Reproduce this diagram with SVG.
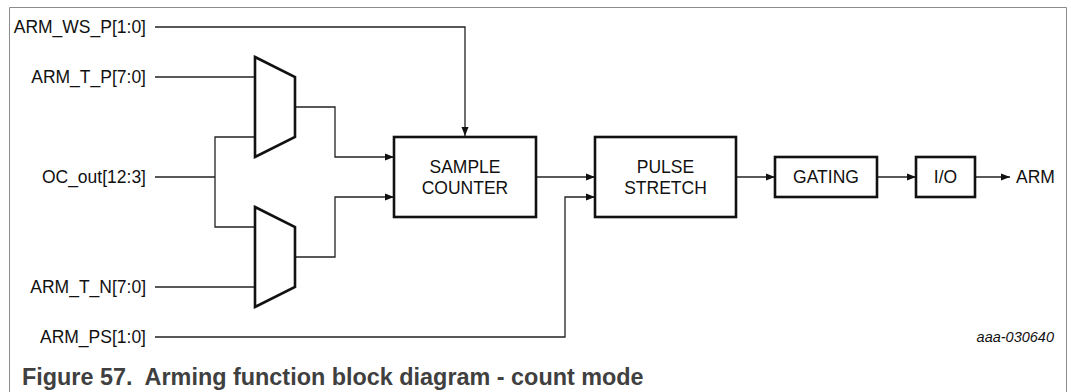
<svg xmlns="http://www.w3.org/2000/svg" width="1071" height="392" viewBox="0 0 1071 392">
<style>
.lbl{font-family:"Liberation Sans",Arial,sans-serif;font-size:17.5px;fill:#111;}
.end{text-anchor:end;}
.mid{text-anchor:middle;}
.box{fill:#fff;stroke:#111;stroke-width:2.6;}
.mux{fill:#fff;stroke:#111;stroke-width:2.6;stroke-linejoin:miter;}
.wire{fill:none;stroke:#222;stroke-width:1.3;}
.arr{marker-end:url(#ah);}
.cap{font-family:"Liberation Sans",Arial,sans-serif;font-weight:bold;font-size:23.4px;fill:#404040;}
.code{font-family:"Liberation Sans",Arial,sans-serif;font-style:italic;font-size:14.5px;fill:#111;text-anchor:end;}
</style>
<defs>
<marker id="ah" markerUnits="userSpaceOnUse" markerWidth="9" markerHeight="8" refX="9" refY="4" orient="auto">
<path d="M0,0.5 L9,4 L0,7.5 z" fill="#111"/>
</marker>
</defs>
<rect x="0" y="0" width="1071" height="392" fill="#fff"/>
<path d="M9.5,400 V7.5 H1066.5 V400" fill="none" stroke="#8c8c8c" stroke-width="1"/>

<g id="connectors">
<path class="wire arr" d="M155,27 H465 V136"/>
<path class="wire" d="M155,77 H255"/>
<path class="wire" d="M155,177 H215"/>
<path class="wire" d="M255,137 H215 V227 H255"/>
<path class="wire" d="M155,287 H255"/>
<path class="wire arr" d="M295,107 H335 V157 H394"/>
<path class="wire arr" d="M295,257 H335 V197 H394"/>
<path class="wire arr" d="M155,337 H565 V197 H595"/>
<path class="wire arr" d="M536,177 H595"/>
<path class="wire arr" d="M736,177 H775"/>
<path class="wire arr" d="M877,177 H916"/>
<path class="wire arr" d="M975,177 H1010"/>
</g>

<g id="in_ws"><text class="lbl end" x="146" y="33">ARM_WS_P[1:0]</text></g>
<g id="in_tp"><text class="lbl end" x="146" y="83">ARM_T_P[7:0]</text></g>
<g id="in_oc"><text class="lbl end" x="146" y="183">OC_out[12:3]</text></g>
<g id="in_tn"><text class="lbl end" x="146" y="293">ARM_T_N[7:0]</text></g>
<g id="in_ps"><text class="lbl end" x="146" y="343">ARM_PS[1:0]</text></g>

<g id="mux_p"><polygon class="mux" points="255,57 295,77 295,137 255,157"/></g>
<g id="mux_n"><polygon class="mux" points="255,207 295,227 295,287 255,307"/></g>

<g id="sample_counter">
<rect class="box" x="394" y="137" width="142" height="80"/>
<text class="lbl mid" x="465" y="173">SAMPLE</text>
<text class="lbl mid" x="465" y="194">COUNTER</text>
</g>
<g id="pulse_stretch">
<rect class="box" x="595" y="137" width="141" height="80"/>
<text class="lbl mid" x="665.5" y="173">PULSE</text>
<text class="lbl mid" x="665.5" y="194">STRETCH</text>
</g>
<g id="gating">
<rect class="box" x="775" y="157" width="102" height="40"/>
<text class="lbl mid" x="826" y="183">GATING</text>
</g>
<g id="io">
<rect class="box" x="916" y="157" width="59" height="40"/>
<text class="lbl mid" x="945.5" y="183">I/O</text>
</g>
<g id="out_arm"><text class="lbl" x="1016" y="183">ARM</text></g>

<text class="code" x="1054" y="342">aaa-030640</text>
<text class="cap" x="22" y="385" xml:space="preserve">Figure 57.  Arming function block diagram - count mode</text>
</svg>
